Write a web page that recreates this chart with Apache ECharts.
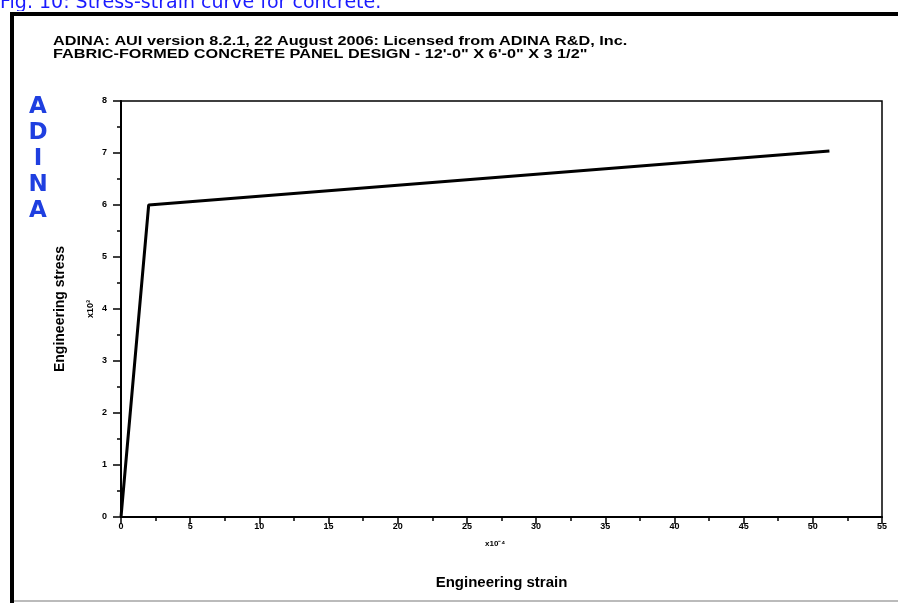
<!DOCTYPE html>
<html>
<head>
<meta charset="utf-8">
<script src="https://cdn.jsdelivr.net/npm/echarts@6/dist/echarts.min.js"></script>
<style>
html,body{margin:0;padding:0;background:#fff;}
#c{width:898px;height:603px;}
</style>
</head>
<body>
<div id="c"></div>
<script>
var strainValues = [0, 2.0, 51.2];
var stressValues = [0, 6.0, 7.04];
var xTickLabels = ['0','5','10','15','20','25','30','35','40','45','50','55'];
var yTickLabels = ['0','1','2','3','4','5','6','7','8'];
var caption = 'Fig. 10: Stress-strain curve for concrete.';
var titleLine1 = 'ADINA: AUI version 8.2.1, 22 August 2006: Licensed from ADINA R&D, Inc.';
var titleLine2 = 'FABRIC-FORMED CONCRETE PANEL DESIGN - 12\'-0" X 6\'-0" X 3 1/2"';
var logoLetters = ['A','D','I','N','A'];

var chart = echarts.init(document.getElementById('c'), null, {renderer:'canvas'});
var data = strainValues.map(function(v,i){return [v, stressValues[i]];});

var graphics = [
  {type:'text', x:0, y:-6, style:{text:caption, fill:'#1a1aff', font:'19px "DejaVu Sans"'}},
  {type:'rect', shape:{x:0,y:11,width:898,height:1}, style:{fill:'#fff'}},
  {type:'rect', shape:{x:10,y:12,width:888,height:4}, style:{fill:'#000'}},
  {type:'rect', shape:{x:10,y:12,width:4,height:591}, style:{fill:'#000'}},
  {type:'rect', shape:{x:14,y:600,width:884,height:2}, style:{fill:'#bbb'}},
  {type:'text', x:53, y:35, scaleX:1.25, style:{text:titleLine1, fill:'#000', font:'bold 13px "Liberation Sans"'}},
  {type:'text', x:53, y:48, scaleX:1.25, style:{text:titleLine2, fill:'#000', font:'bold 13px "Liberation Sans"'}},
  {type:'text', x:485, y:540, style:{text:'x10⁻⁴', fill:'#000', font:'bold 8px "Liberation Sans"'}},
  {type:'text', x:86, y:318, rotation:Math.PI/2, style:{text:'x10³', fill:'#000', font:'bold 9px "Liberation Sans"'}}
];
logoLetters.forEach(function(l,i){
  graphics.push({type:'text', x:38, y:96+i*26, style:{text:l, fill:'#1f3fe0', font:'900 23px "DejaVu Sans"', align:'center', verticalAlign:'top'}});
});

chart.setOption({
  animation:false,
  backgroundColor:'#fff',
  grid:{left:121, right:16, top:101, bottom:86, show:true, borderColor:'#000', borderWidth:1.5},
  xAxis:{
    type:'value', min:0, max:55, interval:5,
    name:'Engineering strain', nameLocation:'middle', nameGap:58,
    nameTextStyle:{color:'#000', fontWeight:'bold', fontSize:15, fontFamily:'Liberation Sans'},
    axisLine:{show:true, onZero:false, lineStyle:{color:'#000', width:2}},
    axisTick:{show:true, length:7, inside:false, lineStyle:{color:'#000', width:1.5}},
    minorTick:{show:true, splitNumber:2, length:4, lineStyle:{color:'#000', width:1.5}},
    splitLine:{show:false},
    axisLabel:{color:'#000', fontSize:9, fontWeight:'bold', fontFamily:'Liberation Sans', margin:5,
      formatter:function(v){var i=Math.round(v/5);return xTickLabels[i]!==undefined?xTickLabels[i]:'';}}
  },
  yAxis:{
    type:'value', min:0, max:8, interval:1,
    name:'Engineering stress', nameLocation:'middle', nameGap:54, nameRotate:90,
    nameTextStyle:{color:'#000', fontWeight:'bold', fontSize:14, fontFamily:'Liberation Sans'},
    axisLine:{show:true, onZero:false, lineStyle:{color:'#000', width:2}},
    axisTick:{show:true, length:8, inside:false, lineStyle:{color:'#000', width:1.5}},
    minorTick:{show:true, splitNumber:2, length:4, lineStyle:{color:'#000', width:1.5}},
    splitLine:{show:false},
    axisLabel:{color:'#000', fontSize:9, fontWeight:'bold', fontFamily:'Liberation Sans', margin:14,
      formatter:function(v){var i=Math.round(v);return yTickLabels[i]!==undefined?yTickLabels[i]:'';}}
  },
  series:[{
    type:'line', data:data, showSymbol:false, symbol:'none',
    lineStyle:{color:'#000', width:3}, clip:false
  }],
  graphic:graphics
});
</script>
</body>
</html>
